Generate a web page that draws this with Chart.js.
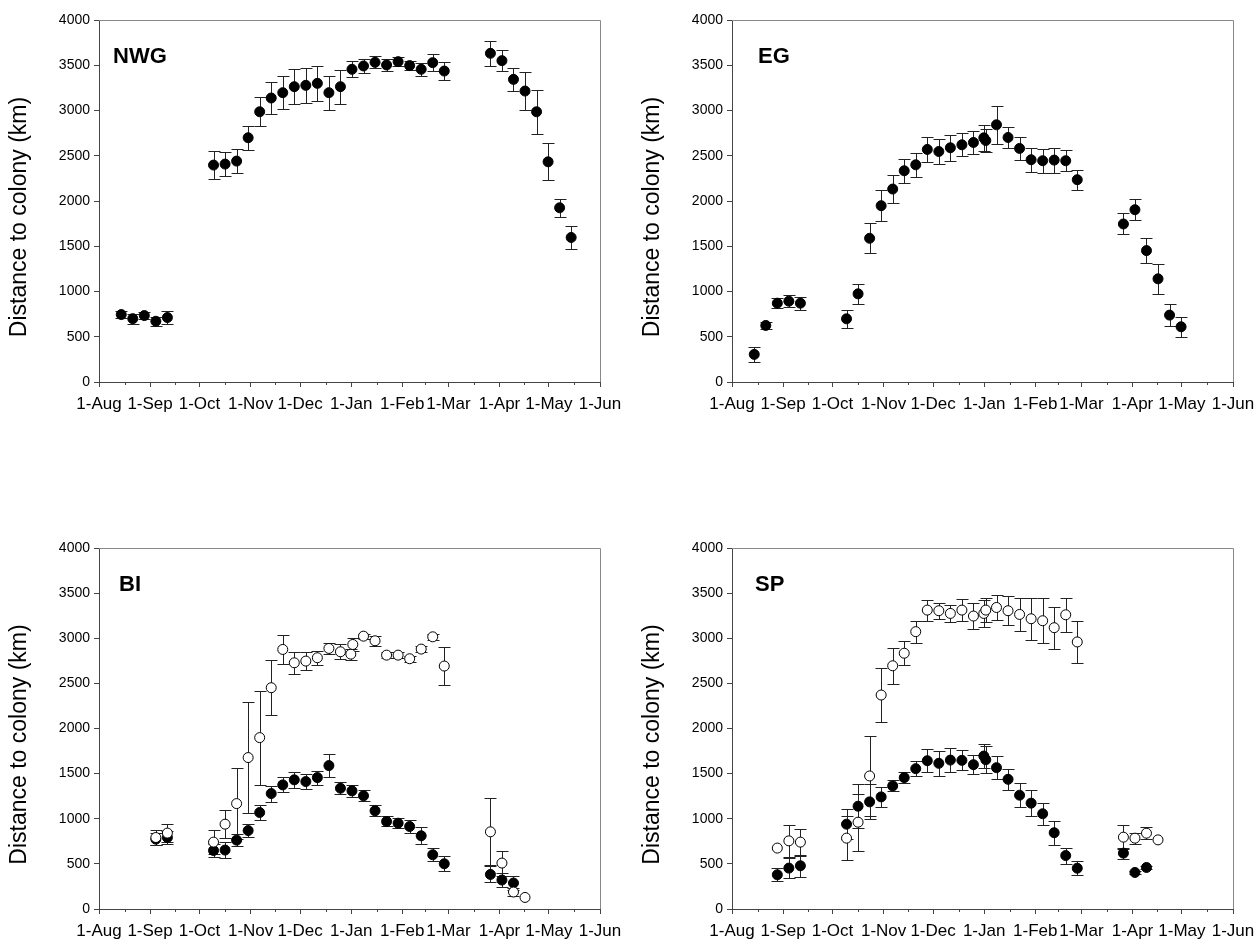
<!DOCTYPE html>
<html>
<head>
<meta charset="utf-8">
<script src="https://cdn.jsdelivr.net/npm/chart.js@4.4.0/dist/chart.umd.min.js"></script>
<style>
  body { margin: 0; background: #fff; }
  #wrap { position: relative; width: 1255px; height: 945px; }
  canvas { position: absolute; }
</style>
</head>
<body>
<div id="wrap">
  <canvas id="nwg" width="627" height="430" style="left:0;top:0"></canvas>
  <canvas id="eg" width="622" height="430" style="left:633px;top:0"></canvas>
  <canvas id="bi" width="627" height="427" style="left:0;top:518px"></canvas>
  <canvas id="sp" width="622" height="427" style="left:633px;top:518px"></canvas>
</div>
<script>
// eixo x: dias desde 1-Aug
const monthDays = [0, 31, 61, 92, 122, 153, 184, 212, 243, 273, 304];
const monthLabels = ["1-Aug", "1-Sep", "1-Oct", "1-Nov", "1-Dec", "1-Jan", "1-Feb", "1-Mar", "1-Apr", "1-May", "1-Jun"];

// NWG
const nwgDays = [13.5, 20.5, 27.5, 34.5, 41.5, 69.5, 76.5, 83.5, 90.5, 97.5, 104.5, 111.5, 118.5, 125.5, 132.5, 139.5, 146.5, 153.5, 160.5, 167.5, 174.5, 181.5, 188.5, 195.5, 202.5, 209.5, 237.5, 244.5, 251.5, 258.5, 265.5, 272.5, 279.5, 286.5];
const nwgMean = [745, 700, 734, 671, 712, 2397, 2408, 2441, 2699, 2986, 3138, 3197, 3263, 3278, 3300, 3197, 3263, 3455, 3492, 3532, 3503, 3540, 3496, 3455, 3529, 3436, 3632, 3551, 3344, 3215, 2986, 2433, 1925, 1597];
const nwgSE = [41, 55, 42, 52, 68, 157, 135, 129, 131, 159, 177, 179, 195, 197, 192, 186, 186, 87, 74, 65, 68, 50, 46, 74, 92, 98, 140, 120, 125, 206, 241, 203, 100, 127];

// EG
const egDays = [13.5, 20.5, 27.5, 34.5, 41.5, 69.5, 76.5, 83.5, 90.5, 97.5, 104.5, 111.5, 118.5, 125.5, 132.5, 139.5, 146.5, 152.8, 154.0, 160.5, 167.5, 174.5, 181.5, 188.5, 195.5, 202.5, 209.5, 237.5, 244.5, 251.5, 258.5, 265.5, 272.5];
const egMean = [305, 625, 871, 893, 871, 698, 974, 1588, 1948, 2132, 2334, 2400, 2570, 2547, 2588, 2621, 2647, 2698, 2668, 2842, 2702, 2581, 2456, 2445, 2452, 2445, 2235, 1746, 1904, 1452, 1140, 739, 610];
const egSE = [86, 37, 55, 64, 70, 96, 112, 165, 169, 156, 134, 132, 142, 142, 142, 127, 130, 145, 127, 208, 119, 125, 132, 134, 138, 119, 108, 116, 116, 136, 169, 121, 110];

// BI - circulos abertos
const biOpenDays = [34.5, 41.5, 69.5, 76.5, 83.5, 90.5, 97.5, 104.5, 111.5, 118.5, 125.5, 132.5, 139.5, 146.5, 152.8, 154.0, 160.5, 167.5, 174.5, 181.5, 188.5, 195.5, 202.5, 209.5, 237.5, 244.5, 251.5, 258.5];
const biOpenMean = [792, 841, 741, 940, 1168, 1678, 1899, 2452, 2876, 2728, 2747, 2784, 2887, 2850, 2824, 2931, 3023, 2972, 2813, 2813, 2773, 2880, 3016, 2692, 855, 509, 188, 128];
const biOpenSE = [85, 100, 136, 155, 391, 619, 520, 302, 158, 122, 103, 77, 63, 81, 60, 70, 26, 55, 30, 37, 35, 35, 30, 214, 373, 139, 46, 0];
// BI - circulos cheios
const biDays = [34.5, 41.5, 69.5, 76.5, 83.5, 90.5, 97.5, 104.5, 111.5, 118.5, 125.5, 132.5, 139.5, 146.5, 153.5, 160.5, 167.5, 174.5, 181.5, 188.5, 195.5, 202.5, 209.5, 237.5, 244.5, 251.5];
const biMean = [774, 792, 648, 653, 763, 869, 1069, 1279, 1375, 1431, 1412, 1456, 1589, 1338, 1309, 1254, 1088, 970, 951, 914, 811, 601, 501, 383, 321, 288];
const biSE = [70, 75, 68, 89, 65, 76, 88, 88, 83, 92, 85, 77, 129, 65, 65, 61, 61, 55, 52, 74, 96, 70, 83, 88, 78, 73];

// SP - circulos abertos
const spOpenDays = [27.5, 34.5, 41.5, 69.5, 76.5, 83.5, 90.5, 97.5, 104.5, 111.5, 118.5, 125.5, 132.5, 139.5, 146.5, 152.8, 154.0, 160.5, 167.5, 174.5, 181.5, 188.5, 195.5, 202.5, 209.5, 237.5, 244.5, 251.5, 258.5];
const spOpenMean = [675, 755, 741, 785, 962, 1474, 2371, 2695, 2834, 3073, 3312, 3305, 3275, 3312, 3246, 3275, 3312, 3341, 3305, 3264, 3216, 3194, 3117, 3260, 2959, 796, 785, 840, 766];
const spOpenSE = [0, 175, 150, 240, 314, 440, 294, 199, 134, 123, 116, 88, 90, 119, 142, 150, 130, 143, 158, 184, 235, 250, 232, 186, 232, 136, 61, 66, 0];
// SP - circulos cheios
const spDays = [27.5, 34.5, 41.5, 69.5, 76.5, 83.5, 90.5, 97.5, 104.5, 111.5, 118.5, 125.5, 132.5, 139.5, 146.5, 152.8, 154.0, 160.5, 167.5, 174.5, 181.5, 188.5, 195.5, 202.5, 209.5, 237.5, 244.5, 251.5];
const spMean = [379, 453, 479, 940, 1139, 1187, 1242, 1364, 1456, 1555, 1643, 1614, 1650, 1647, 1599, 1695, 1654, 1566, 1437, 1261, 1173, 1055, 845, 592, 452, 619, 405, 460];
const spSE = [74, 110, 120, 166, 247, 195, 110, 61, 61, 83, 129, 140, 132, 110, 107, 128, 150, 130, 119, 132, 143, 119, 134, 88, 79, 60, 15, 15];

const FONT = 'Arial, "Liberation Sans", sans-serif';
const Y_TITLE = "Distance to colony (km)";

const pts = (days, mean) => days.map((d, i) => ({ x: d, y: mean[i] }));

function filled(days, mean, se) {
  return { data: pts(days, mean), se: se, pointRadius: 5, pointBorderWidth: 1,
    pointBackgroundColor: "#000", pointBorderColor: "#000", showLine: false };
}
function open(days, mean, se) {
  return { data: pts(days, mean), se: se, pointRadius: 5, pointBorderWidth: 1,
    pointBackgroundColor: "#fff", pointBorderColor: "#000", showLine: false };
}

// barras de erro (antes dos pontos) + moldura, ticks menores, titulo y e rotulo do painel
const extras = {
  id: "extras",
  beforeDatasetsDraw(chart) {
    const { ctx, scales: { x, y } } = chart;
    ctx.save();
    ctx.strokeStyle = "#222";
    ctx.lineWidth = 1;
    chart.data.datasets.forEach(ds => {
      ds.data.forEach((p, i) => {
        const e = ds.se[i];
        if (!e) return;
        const px = Math.round(x.getPixelForValue(p.x)) + 0.5;
        const yt = Math.round(y.getPixelForValue(p.y + e)) + 0.5;
        const yb = Math.round(y.getPixelForValue(p.y - e)) + 0.5;
        ctx.beginPath();
        ctx.moveTo(px, yt); ctx.lineTo(px, yb);
        ctx.moveTo(px - 6, yt); ctx.lineTo(px + 6, yt);
        ctx.moveTo(px - 6, yb); ctx.lineTo(px + 6, yb);
        ctx.stroke();
      });
    });
    ctx.restore();
  },
  afterDraw(chart) {
    const { ctx, chartArea: a, scales: { x } } = chart;
    const opt = chart.options.plugins.extras;
    ctx.save();
    ctx.strokeStyle = "#888";
    ctx.lineWidth = 1;
    ctx.beginPath();
    ctx.moveTo(a.left, a.top + 0.5); ctx.lineTo(a.right + 0.5, a.top + 0.5); ctx.lineTo(a.right + 0.5, a.bottom);
    ctx.stroke();
    ctx.strokeStyle = "#444";
    ctx.beginPath();
    for (let i = 0; i < monthDays.length - 1; i++) {
      const px = Math.round(x.getPixelForValue((monthDays[i] + monthDays[i + 1]) / 2)) + 0.5;
      ctx.moveTo(px, a.bottom); ctx.lineTo(px, a.bottom + 3);
    }
    ctx.stroke();
    ctx.fillStyle = "#000";
    ctx.font = "bold 22px " + FONT;
    ctx.textBaseline = "alphabetic";
    ctx.fillText(opt.label, a.left + opt.dx, a.top + 43);

    ctx.translate(a.left - 79, (a.top + a.bottom) / 2 + 16);
    ctx.rotate(-Math.PI / 2);
    ctx.font = "23px " + FONT;
    ctx.textAlign = "center";
    ctx.textBaseline = "middle";
    ctx.fillText(Y_TITLE, 0, 0);
    ctx.restore();
  }
};

function panel(id, label, dx, datasets, top, xHeight) {
  const canvas = document.getElementById(id);
  return new Chart(canvas, {
    type: "scatter",
    data: { datasets: datasets },
    options: {
      responsive: false,
      animation: false,
      layout: { padding: { left: 0, right: canvas.width - 600, top: top, bottom: 0 } },
      plugins: { legend: { display: false }, tooltip: { enabled: false }, extras: { label: label, dx: dx } },
      scales: {
        x: {
          type: "linear", min: 0, max: 304,
          afterBuildTicks: s => { s.ticks = monthDays.map(v => ({ value: v })); },
          afterFit: s => { s.height = xHeight; s.paddingLeft = 0; s.paddingRight = 0; },
          grid: { drawOnChartArea: false, tickLength: 5, color: "#444" },
          border: { color: "#444" },
          ticks: { autoSkip: false, maxRotation: 0, padding: 7, color: "#000",
            font: { family: FONT, size: 17 },
            callback: v => monthLabels[monthDays.indexOf(v)] || "" }
        },
        y: {
          min: 0, max: 4000,
          afterFit: s => { s.width = 99; },
          grid: { drawOnChartArea: false, tickLength: 5, color: "#444" },
          border: { color: "#444" },
          ticks: { stepSize: 500, padding: 4, color: "#000", font: { family: FONT, size: 14 },
            callback: v => String(v) }
        }
      }
    },
    plugins: [extras]
  });
}

panel("nwg", "NWG", 14, [filled(nwgDays, nwgMean, nwgSE)], 20, 48);
panel("eg", "EG", 26, [filled(egDays, egMean, egSE)], 20, 48);
panel("bi", "BI", 20, [open(biOpenDays, biOpenMean, biOpenSE), filled(biDays, biMean, biSE)], 30, 36);
panel("sp", "SP", 23, [open(spOpenDays, spOpenMean, spOpenSE), filled(spDays, spMean, spSE)], 30, 36);
</script>
</body>
</html>
